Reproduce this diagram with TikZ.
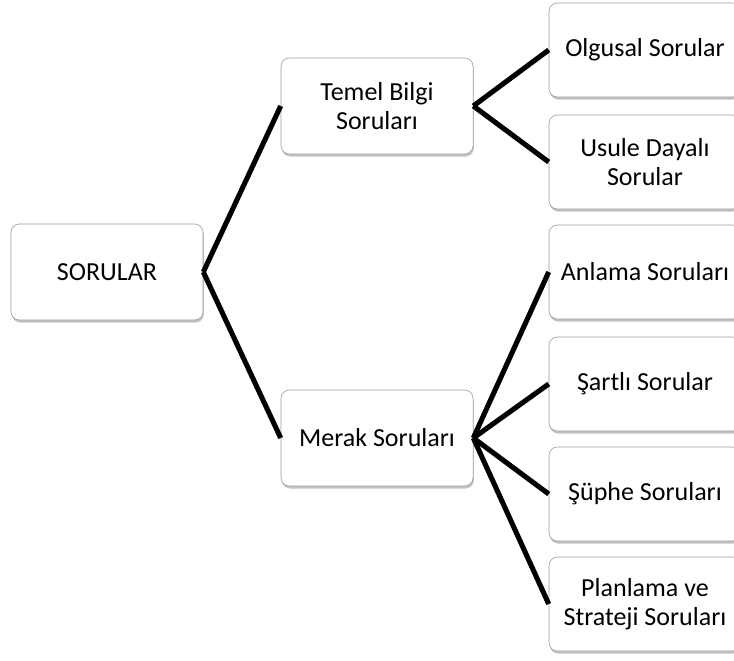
\documentclass[tikz,border=0pt]{standalone}
\usepackage{fontspec}
\setmainfont{Carlito}
\usetikzlibrary{shadows}

\begin{document}
\begin{tikzpicture}[x = 0.025cm, y = -0.025cm,
	box/.style = {draw = gray!80, thin, rounded corners = 6pt, fill = white, align = center,
		minimum width = 4.8cm, minimum height = 2.4cm, font = \fontsize{18.5}{21}\selectfont,
		drop shadow = {shadow xshift = 0.6pt, shadow yshift = -1.8pt, opacity = 0.6, fill = gray!80}},
	leaf/.style = {box, minimum height = 2.35cm},
	link/.style = {line width = 3.6pt}]

	% Frame
	
	\clip (0, 0) rectangle (734, 661);

	% Boxes
	
	\node [box] (sorular) at (107, 272) {SORULAR};
	\node [box] (temel) at (377, 106) {Temel Bilgi\\Soruları};
	\node [box] (merak) at (377, 438) {Merak Soruları};
	
	\node [leaf] (olgusal) at (645, 50) {Olgusal Sorular};
	\node [leaf] (usule) at (645, 162) {Usule Dayalı\\Sorular};
	\node [leaf] (anlama) at (645, 272) {Anlama Soruları};
	\node [leaf] (sartli) at (645, 384) {Şartlı Sorular};
	\node [leaf] (suphe) at (645, 494) {Şüphe Soruları};
	\node [leaf] (planlama) at (645, 604) {Planlama ve\\Strateji Soruları};

	% Links
	
	\foreach \a/\b in {sorular/temel, sorular/merak, temel/olgusal, temel/usule,
		merak/anlama, merak/sartli, merak/suphe, merak/planlama}
	{
		\draw [link] (\a.east) -- (\b.west);
	}

\end{tikzpicture}
\end{document}
